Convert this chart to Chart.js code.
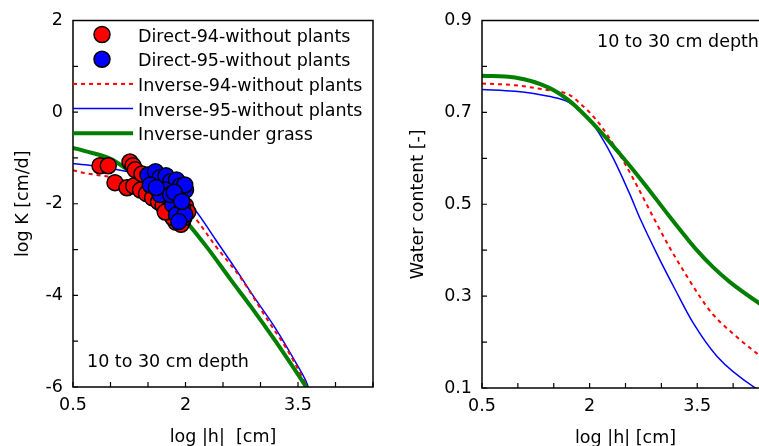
<!DOCTYPE html>
<html>
<head>
<meta charset="utf-8">
<script src="https://cdn.jsdelivr.net/npm/chart.js@4.4.1/dist/chart.umd.min.js"></script>
<style>
  html,body{margin:0;padding:0;background:#fff;overflow:hidden;width:759px;height:446px}
  #wrapK{position:absolute;left:0;top:0;width:390px;height:446px}
  #wrapW{position:absolute;left:390px;top:0;width:390px;height:446px}
</style>
</head>
<body>
<div id="wrapK"><canvas id="kChart" width="390" height="446"></canvas></div>
<div id="wrapW"><canvas id="wChart" width="390" height="446"></canvas></div>
<script>
// axis ticks
const xMajor = [0.5, 2, 3.5];
const xMinor = [1, 1.5, 2.5, 3, 4, 4.5];
const kMajor = [2, 0, -2, -4, -6];
const kMinor = [1, -1, -3, -5];
const wMajor = [0.9, 0.7, 0.5, 0.3, 0.1];
const wMinor = [0.8, 0.6, 0.4, 0.2];

// left: log K vs log|h|, measured points
const dir94X = [0.86,0.97,1.26,1.30,1.06,1.22,1.31,1.40,1.48,1.56,1.64,1.70,1.77,1.84,1.91,1.96,1.33,1.42,1.53,1.62,1.69,1.77,1.87,1.93,2.00,2.03,1.87,1.94,1.98,1.83,1.73];
const dir94Y = [-1.17,-1.17,-1.09,-1.17,-1.54,-1.65,-1.61,-1.70,-1.78,-1.87,-1.96,-2.04,-2.13,-2.22,-2.30,-2.39,-1.26,-1.35,-1.43,-1.50,-1.65,-1.78,-1.87,-2.00,-2.04,-2.18,-2.40,-2.45,-2.30,-2.30,-2.18];
const dir95X = [1.50,1.60,1.66,1.74,1.80,1.88,1.93,2.00,1.99,1.91,1.83,1.96,1.88,1.99,1.91,1.73,1.66,1.80,1.53,1.61,1.85,1.95];
const dir95Y = [-1.37,-1.30,-1.43,-1.39,-1.52,-1.48,-1.61,-1.70,-1.59,-1.91,-2.02,-2.09,-2.24,-2.24,-2.39,-1.70,-1.80,-1.80,-1.59,-1.65,-1.75,-1.95];

// left: fitted curves
const kInv94X = [0.5,0.66,1.0,1.3,1.6,1.9,2.11,2.4,2.75,3.1,3.35,3.63,3.68];
const kInv94Y = [-1.27,-1.33,-1.42,-1.55,-1.74,-1.98,-2.28,-2.92,-3.65,-4.55,-5.17,-6.0,-6.15];
const kInv95X = [0.5,0.66,1.0,1.3,1.6,1.9,2.11,2.4,2.76,2.87,3.2,3.5,3.6,3.65];
const kInv95Y = [-1.12,-1.15,-1.23,-1.33,-1.50,-1.78,-2.10,-2.78,-3.65,-3.93,-4.72,-5.55,-5.85,-6.05];
const kGrassX = [0.5,0.66,1.0,1.24,1.5,1.75,2.01,2.3,2.6,2.87,3.2,3.61,3.65];
const kGrassY = [-0.78,-0.85,-1.02,-1.27,-1.57,-1.94,-2.39,-2.98,-3.65,-4.24,-5.0,-6.0,-6.1];

// right: water content vs log|h|
const wInv94X = [0.5,0.96,1.43,1.71,1.89,2.0,2.17,2.4,2.61,2.91,3.1,3.36,3.54,3.72,4.06,4.36,4.5];
const wInv94Y = [0.763,0.759,0.748,0.739,0.716,0.70,0.668,0.613,0.555,0.465,0.41,0.342,0.298,0.26,0.21,0.172,0.157];
const wInv95X = [0.5,0.96,1.43,1.71,2.0,2.15,2.33,2.56,2.7,2.96,3.19,3.43,3.78,4.31,4.5];
const wInv95Y = [0.75,0.746,0.735,0.722,0.684,0.65,0.60,0.522,0.47,0.385,0.315,0.245,0.168,0.1,0.085];
const wGrassX = [0.5,0.96,1.43,1.71,2.1,2.42,2.75,3.1,3.35,3.5,3.72,3.96,4.36,4.5];
const wGrassY = [0.780,0.776,0.754,0.726,0.667,0.61,0.547,0.476,0.427,0.399,0.363,0.330,0.285,0.271];

const FONT_FAMILY = '"DejaVu Sans", sans-serif';
const FONT_SIZE = 17.5;
const FONT = FONT_SIZE + 'px ' + FONT_FAMILY;
const RED = '#ff0000', BLUE = '#0000ff', GREEN = '#007f00';

const pts = (xs, ys) => xs.map((x, i) => ({x, y: ys[i]}));

// frame, inward ticks, titles, note and legend
const framePlugin = {
  id: 'frame',
  afterDraw(chart, args, o){
    const {ctx, chartArea: a, scales} = chart;
    ctx.save();
    ctx.strokeStyle = '#000';
    ctx.lineWidth = 1.5;
    ctx.strokeRect(a.left, a.top, a.right - a.left, a.bottom - a.top);

    ctx.lineWidth = 1.2;
    ctx.beginPath();
    o.xTicks.forEach(v => {
      const x = scales.x.getPixelForValue(v);
      ctx.moveTo(x, a.bottom); ctx.lineTo(x, a.bottom - 5);
    });
    o.yTicks.forEach(v => {
      const y = scales.y.getPixelForValue(v);
      ctx.moveTo(a.left, y); ctx.lineTo(a.left + 5, y);
    });
    ctx.stroke();

    ctx.fillStyle = '#000';
    ctx.font = FONT;
    ctx.textBaseline = 'alphabetic';
    ctx.textAlign = 'left';
    ctx.fillText(o.note, o.noteX, o.noteY);

    ctx.textAlign = 'center';
    ctx.fillText(o.xTitle, (a.left + a.right) / 2, o.xTitleY);
    ctx.save();
    ctx.translate(o.yTitleX, (a.top + a.bottom) / 2);
    ctx.rotate(-Math.PI / 2);
    ctx.fillText(o.yTitle, 0, 0);
    ctx.restore();

    if(o.legend){
      const L = o.legend;
      chart.data.datasets.forEach((ds, i) => {
        const y = L.y0 + i * L.gap;
        if(ds.showLine){
          ctx.save();
          ctx.strokeStyle = ds.borderColor;
          ctx.lineWidth = ds.borderWidth;
          ctx.setLineDash(ds.borderDash || []);
          ctx.beginPath();
          ctx.moveTo(L.lineX0, y); ctx.lineTo(L.lineX1, y);
          ctx.stroke();
          ctx.restore();
        }else{
          ctx.beginPath();
          ctx.arc(L.markX, y, ds.pointRadius, 0, Math.PI * 2);
          ctx.fillStyle = ds.backgroundColor;
          ctx.fill();
          ctx.lineWidth = ds.pointBorderWidth;
          ctx.strokeStyle = '#000';
          ctx.stroke();
        }
        ctx.fillStyle = '#000';
        ctx.textAlign = 'left';
        ctx.fillText(ds.label, L.textX, y + 7);
      });
    }
    ctx.restore();
  }
};

const axisX = (h) => ({
  type: 'linear', min: 0.5, max: 4.5,
  afterBuildTicks: s => { s.ticks = xMajor.map(v => ({value: v})); },
  afterFit: s => { s.height = h; },
  grid: {display: false, drawTicks: false},
  border: {display: false},
  ticks: {font: {family: FONT_FAMILY, size: FONT_SIZE}, color: '#000', padding: 8,
          autoSkip: false, maxRotation: 0, callback: v => String(v)}
});
const axisY = (min, max, major, w) => ({
  type: 'linear', min, max,
  afterBuildTicks: s => { s.ticks = major.map(v => ({value: v})); },
  afterFit: s => { s.width = w; },
  grid: {display: false, drawTicks: false},
  border: {display: false},
  ticks: {font: {family: FONT_FAMILY, size: FONT_SIZE}, color: '#000', padding: 10,
          autoSkip: false, callback: v => String(v)}
});

const lineDs = (label, data, color, width, dash, order) => ({
  label, data, showLine: true, borderColor: color, backgroundColor: color,
  borderWidth: width, borderDash: dash, pointRadius: 0, order,
  cubicInterpolationMode: 'monotone'
});
const markDs = (label, data, color, order) => ({
  label, data, showLine: false, backgroundColor: color, borderColor: '#000',
  pointRadius: 8, pointBorderWidth: 1.5, pointBorderColor: '#000',
  pointBackgroundColor: color, order
});

new Chart(document.getElementById('kChart'), {
  type: 'scatter',
  data: {
    datasets: [
      markDs('Direct-94-without plants', pts(dir94X, dir94Y), RED, 1),
      markDs('Direct-95-without plants', pts(dir95X, dir95Y), BLUE, 0),
      lineDs('Inverse-94-without plants', pts(kInv94X, kInv94Y), RED, 2, [4, 4], 3),
      lineDs('Inverse-95-without plants', pts(kInv95X, kInv95Y), BLUE, 1.5, [], 4),
      lineDs('Inverse-under grass', pts(kGrassX, kGrassY), GREEN, 4, [], 2)
    ]
  },
  options: {
    responsive: false, animation: false, events: [],
    layout: {padding: {left: 0, right: 17, top: 20, bottom: 0}},
    scales: {x: axisX(59), y: axisY(-6, 2, kMajor, 73)},
    plugins: {
      legend: {display: false}, tooltip: {enabled: false},
      frame: {
        xTicks: xMajor.concat(xMinor), yTicks: kMajor.concat(kMinor),
        note: '10 to 30 cm depth', noteX: 87, noteY: 367,
        xTitle: 'log |h|  [cm]', xTitleY: 442,
        yTitle: 'log K [cm/d]', yTitleX: 28,
        legend: {y0: 34.5, gap: 24.7, markX: 102, lineX0: 73, lineX1: 133, textX: 138}
      }
    }
  },
  plugins: [framePlugin]
});

new Chart(document.getElementById('wChart'), {
  type: 'scatter',
  data: {
    datasets: [
      lineDs('Inverse-94-without plants', pts(wInv94X, wInv94Y), RED, 2, [4, 4], 3),
      lineDs('Inverse-95-without plants', pts(wInv95X, wInv95Y), BLUE, 1.5, [], 4),
      lineDs('Inverse-under grass', pts(wGrassX, wGrassY), GREEN, 4, [], 2)
    ]
  },
  options: {
    responsive: false, animation: false, events: [],
    layout: {padding: {left: 0, right: 11, top: 20, bottom: 0}},
    scales: {x: axisX(58), y: axisY(0.1, 0.9, wMajor, 92)},
    plugins: {
      legend: {display: false}, tooltip: {enabled: false},
      frame: {
        xTicks: xMajor.concat(xMinor), yTicks: wMajor.concat(wMinor),
        note: '10 to 30 cm depth', noteX: 207, noteY: 47,
        xTitle: 'log |h| [cm]', xTitleY: 443,
        yTitle: 'Water content [-]', yTitleX: 33
      }
    }
  },
  plugins: [framePlugin]
});
</script>
</body>
</html>
